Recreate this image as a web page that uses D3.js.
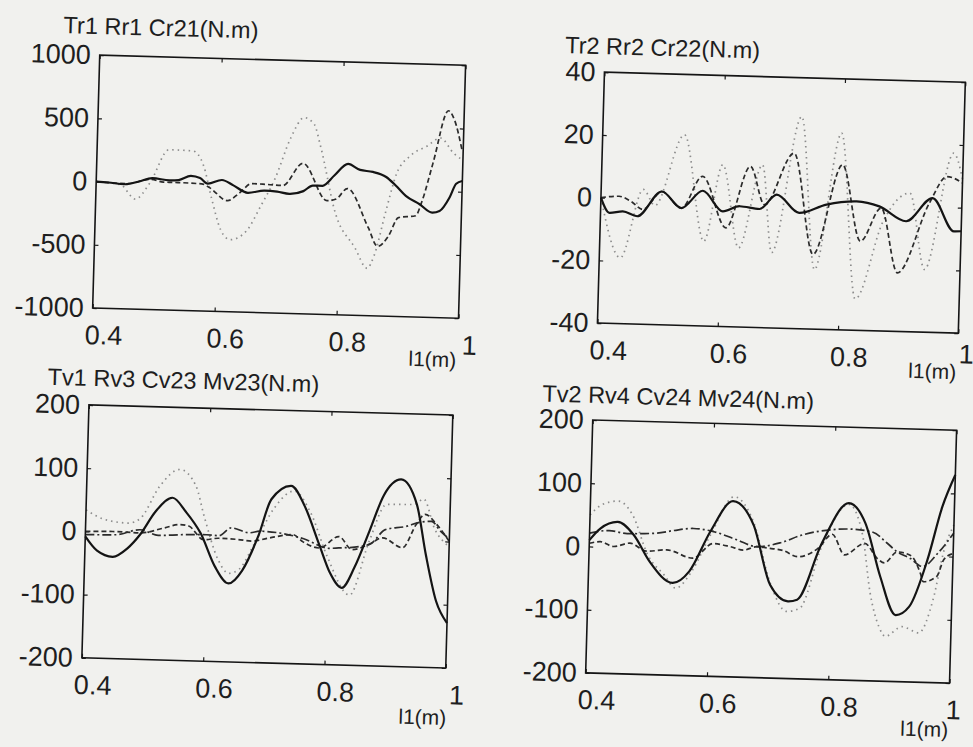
<!DOCTYPE html>
<html>
<head>
<meta charset="utf-8">
<script src="https://cdn.jsdelivr.net/npm/d3@7"></script>
<style>
  html, body { margin: 0; padding: 0; background: #f1f1ee; }
  svg { display: block; }
</style>
</head>
<body>
<div id="chart"></div>
<script>
// x ticks shared by all four panels
const xTicks = [0.4, 0.6, 0.8, 1];

// Tr1 Rr1 Cr21 (N.m)
const p1Solid = [[0.40,0],[0.42,-5],[0.447,-15],[0.47,10],[0.492,40],[0.52,25],[0.535,30],[0.555,65],[0.57,50],[0.583,8],[0.606,40],[0.625,0],[0.649,-56],[0.676,-34],[0.697,-40],[0.717,-55],[0.74,-30],[0.755,16],[0.771,16],[0.79,100],[0.812,195],[0.832,150],[0.853,137],[0.875,100],[0.891,35],[0.908,-45],[0.931,-108],[0.952,-172],[0.964,-157],[0.98,-46],[0.99,62],[1.0,85]];
const p1Dashed = [[0.40,0],[0.45,-10],[0.49,30],[0.51,10],[0.529,10],[0.573,5],[0.585,-20],[0.616,-122],[0.635,-60],[0.655,18],[0.68,15],[0.706,10],[0.738,190],[0.779,-100],[0.794,-85],[0.812,0],[0.848,-305],[0.864,-450],[0.881,-370],[0.897,-218],[0.925,-200],[0.935,-80],[0.951,218],[0.974,637],[0.984,570],[0.998,330]];
const p1Dotted = [[0.40,0],[0.44,-20],[0.465,-130],[0.488,0],[0.518,268],[0.557,263],[0.575,153],[0.590,-110],[0.606,-352],[0.622,-430],[0.648,-360],[0.671,-155],[0.693,63],[0.717,389],[0.738,552],[0.755,498],[0.766,330],[0.794,-206],[0.827,-467],[0.848,-626],[0.859,-520],[0.876,-171],[0.892,130],[0.913,270],[0.941,354],[0.962,420],[0.985,300],[1.0,250]];

// Tr2 Rr2 Cr22 (N.m)
const p2Solid = [[0.40,0],[0.415,-4.8],[0.437,-4.2],[0.461,-5.6],[0.501,2.5],[0.534,-2.6],[0.569,3.1],[0.603,-3.3],[0.631,-1.5],[0.664,-2.2],[0.692,2.5],[0.730,-3.1],[0.775,-0.2],[0.825,1.1],[0.863,-0.3],[0.908,-4.8],[0.951,2.8],[0.988,-7.6],[1.0,-7.5]];
const p2Dashed = [[0.40,0],[0.43,0.6],[0.45,-0.9],[0.47,-3.4],[0.501,2.5],[0.534,-2.6],[0.568,7.7],[0.609,-8.5],[0.647,11.3],[0.672,-0.8],[0.719,15.9],[0.755,-16.2],[0.800,12.6],[0.833,-11.6],[0.866,-0.8],[0.896,-21.3],[0.946,1.2],[0.974,9.8],[1.0,7.9]];
const p2Dotted = [[0.40,0],[0.435,-19],[0.47,3],[0.49,-2],[0.536,20.8],[0.573,-13],[0.601,11.6],[0.631,-14.8],[0.667,11.9],[0.686,-16],[0.730,27.6],[0.758,-21],[0.797,22.7],[0.827,-30],[0.87,-5],[0.913,4.2],[0.941,-20],[0.984,17.3],[1.0,9]];

// Tv1 Rv3 Cv23 Mv23 (N.m)
const p3Solid = [[0.40,-8],[0.42,-30],[0.446,-39],[0.47,-25],[0.49,-3],[0.515,35],[0.542,57],[0.565,35],[0.59,2],[0.615,-50],[0.638,-76],[0.66,-55],[0.685,0],[0.705,59],[0.737,81],[0.76,50],[0.786,-11],[0.805,-55],[0.825,-78],[0.845,-45],[0.868,13],[0.89,70],[0.918,96],[0.945,57],[0.962,-22],[0.981,-95],[1.0,-129]];
const p3Dotted = [[0.40,34],[0.43,20],[0.47,15],[0.49,23],[0.52,74],[0.553,102],[0.58,77],[0.595,29],[0.62,-39],[0.638,-60],[0.655,-53],[0.68,-10],[0.71,45],[0.742,73],[0.77,40],[0.80,-30],[0.838,-89],[0.868,-3],[0.895,56],[0.94,57],[0.956,66],[0.975,20],[1.0,-8]];
const p3Dashed = [[0.40,0],[0.445,1],[0.49,0],[0.53,9],[0.555,15],[0.57,13],[0.595,-8],[0.62,-5],[0.65,-6],[0.675,-8],[0.70,-3],[0.742,4],[0.759,-7],[0.786,-16],[0.818,3],[0.84,-17],[0.868,-8],[0.89,3],[0.923,-12],[0.945,26],[0.959,42],[0.978,27],[1.0,0]];
const p3DashDot = [[0.40,-5],[0.45,-4],[0.49,5],[0.52,-3],[0.56,-1],[0.60,0],[0.62,-1],[0.64,12],[0.67,5],[0.688,8],[0.72,6],[0.76,-2],[0.802,-16],[0.818,-15],[0.852,-12],[0.872,-6],[0.894,16],[0.928,22],[0.95,29],[0.97,31],[0.985,16],[1.0,4]];

// Tv2 Rv4 Cv24 Mv24 (N.m)
const p4Solid = [[0.40,10],[0.418,29],[0.446,40],[0.473,20],[0.50,-21],[0.539,-54],[0.566,-35],[0.599,29],[0.635,78],[0.67,41],[0.70,-53],[0.73,-78],[0.745,-75],[0.783,15],[0.826,80],[0.854,49],[0.881,-35],[0.908,-95],[0.930,-81],[0.958,-6],[0.98,78],[1.0,129]];
const p4Dotted = [[0.40,50],[0.418,66],[0.446,73],[0.47,52],[0.497,-11],[0.525,-42],[0.544,-62],[0.57,-35],[0.60,25],[0.637,85],[0.67,45],[0.70,-50],[0.728,-94],[0.75,-88],[0.783,10],[0.826,78],[0.85,30],[0.865,-61],[0.881,-114],[0.892,-129],[0.919,-113],[0.947,-122],[0.969,-69],[0.985,10],[1.0,50]];
const p4Dashed = [[0.40,5],[0.418,8],[0.44,1],[0.467,7],[0.495,-5],[0.528,-2],[0.571,-14],[0.604,10],[0.632,6],[0.654,1],[0.676,7],[0.698,5],[0.72,2],[0.744,-7],[0.777,7],[0.80,30],[0.821,-2],[0.854,17],[0.875,-6],[0.887,-13],[0.908,5],[0.93,0],[0.947,-28],[0.952,-41],[0.974,-32],[0.985,-5],[1.0,5]];
const p4DashDot = [[0.40,21],[0.432,26],[0.462,22],[0.511,24],[0.539,29],[0.571,33],[0.604,29],[0.643,17],[0.676,7],[0.714,14],[0.752,28],[0.807,38],[0.829,39],[0.867,35],[0.89,19],[0.908,5],[0.93,-5],[0.95,-17],[0.975,5],[1.0,37]];

const W = 973, H = 747;
const FONT = "Arial, 'Liberation Sans', sans-serif";

const styles = {
  solid:   { stroke: "#141414", width: 2.2, dash: null },
  dashed:  { stroke: "#2b2b2b", width: 1.7, dash: "5,3" },
  dotted:  { stroke: "#8c8c8c", width: 1.7, dash: "1.5,4" },
  dashdot: { stroke: "#2b2b2b", width: 1.7, dash: "9,3,2,3" }
};

// boxes are in the un-rotated frame; whole page gets tilted like the scan
const panels = [
  { title: "Tr1 Rr1 Cr21(N.m)", box: [91, 457, 66, 319], yDomain: [-1000, 1000], yTicks: [-1000, -500, 0, 500, 1000],
    titlePos: [54, 45], xlabPos: [432, 368], lastDx: 11, lastDy: 0,
    series: [["dotted", p1Dotted], ["dashed", p1Dashed], ["solid", p1Solid]] },
  { title: "Tr2 Rr2 Cr22(N.m)", box: [596, 957, 69, 320], yDomain: [-40, 40], yTicks: [-40, -20, 0, 20, 40],
    titlePos: [556, 51], xlabPos: [932, 366], lastDx: 8, lastDy: -6,
    series: [["dotted", p2Dotted], ["dashed", p2Dashed], ["solid", p2Solid]] },
  { title: "Tv1 Rv3 Cv23 Mv23(N.m)", box: [90, 454, 416, 669], yDomain: [-200, 200], yTicks: [-200, -100, 0, 100, 200],
    titlePos: [48, 397], xlabPos: [432, 726], lastDx: 11, lastDy: 0,
    series: [["dotted", p3Dotted], ["dashdot", p3DashDot], ["dashed", p3Dashed], ["solid", p3Solid]] },
  { title: "Tv2 Rv4 Cv24 Mv24(N.m)", box: [594, 958, 417, 670], yDomain: [-200, 200], yTicks: [-200, -100, 0, 100, 200],
    titlePos: [543, 400], xlabPos: [934, 724], lastDx: 4, lastDy: 0,
    series: [["dotted", p4Dotted], ["dashdot", p4DashDot], ["dashed", p4Dashed], ["solid", p4Solid]] }
];

const svg = d3.select("#chart").append("svg")
  .attr("width", W).attr("height", H);

svg.append("rect").attr("width", W).attr("height", H).attr("fill", "#f1f1ee");

const page = svg.append("g")
  .attr("transform", "rotate(1.6, 486, 373)");

panels.forEach((p) => {
  const [x0, x1, y0, y1] = p.box;
  const x = d3.scaleLinear().domain([0.4, 1]).range([x0, x1]);
  const y = d3.scaleLinear().domain(p.yDomain).range([y1, y0]);
  const g = page.append("g");

  const styleAxis = (sel) => {
    sel.select(".domain").remove();
    sel.selectAll("line").attr("stroke", "#1a1a1a").attr("stroke-width", 1.2);
    sel.selectAll("text").attr("fill", "#1e1e1e").attr("font-family", FONT).attr("font-size", "27px");
  };

  // left + bottom with labels, ticks pointing inward
  g.append("g")
    .attr("transform", `translate(${x0},0)`)
    .call(d3.axisLeft(y).tickValues(p.yTicks).tickSize(-4).tickPadding(9)
      .tickFormat((d) => String(d)))
    .call(styleAxis);

  g.append("g")
    .attr("transform", `translate(0,${y1})`)
    .call(d3.axisBottom(x).tickValues(xTicks).tickSize(-4).tickPadding(17)
      .tickFormat((d) => d === 1 ? "1" : d.toFixed(1)))
    .call(styleAxis)
    .selectAll("text")
    .attr("dx", (d) => d === 1 ? p.lastDx : 11)
    .attr("y", (d) => d === 1 ? 17 + p.lastDy : 17);

  // top + right, ticks only
  g.append("g")
    .attr("transform", `translate(0,${y0})`)
    .call(d3.axisTop(x).tickValues(xTicks).tickSize(-4).tickFormat(""))
    .call(styleAxis);

  g.append("g")
    .attr("transform", `translate(${x1},0)`)
    .call(d3.axisRight(y).tickValues(p.yTicks).tickSize(-4).tickFormat(""))
    .call(styleAxis);

  // curves
  const line = d3.line()
    .x((d) => x(d[0]))
    .y((d) => y(d[1]))
    .curve(d3.curveMonotoneX);

  p.series.forEach(([kind, data]) => {
    const s = styles[kind];
    g.append("path")
      .datum(data)
      .attr("fill", "none")
      .attr("stroke", s.stroke)
      .attr("stroke-width", s.width)
      .attr("stroke-dasharray", s.dash)
      .attr("stroke-linejoin", "round")
      .attr("d", line);
  });

  // frame
  g.append("rect")
    .attr("x", x0).attr("y", y0)
    .attr("width", x1 - x0).attr("height", y1 - y0)
    .attr("fill", "none")
    .attr("stroke", "#151515")
    .attr("stroke-width", 1.6);

  // title
  g.append("text")
    .attr("x", p.titlePos[0]).attr("y", p.titlePos[1])
    .attr("font-family", FONT).attr("font-size", "23.5px")
    .attr("fill", "#1e1e1e")
    .text(p.title);

  // x label
  g.append("text")
    .attr("x", p.xlabPos[0]).attr("y", p.xlabPos[1])
    .attr("text-anchor", "middle")
    .attr("font-family", FONT).attr("font-size", "21px")
    .attr("fill", "#1e1e1e")
    .text("l1(m)");
});
</script>
</body>
</html>
